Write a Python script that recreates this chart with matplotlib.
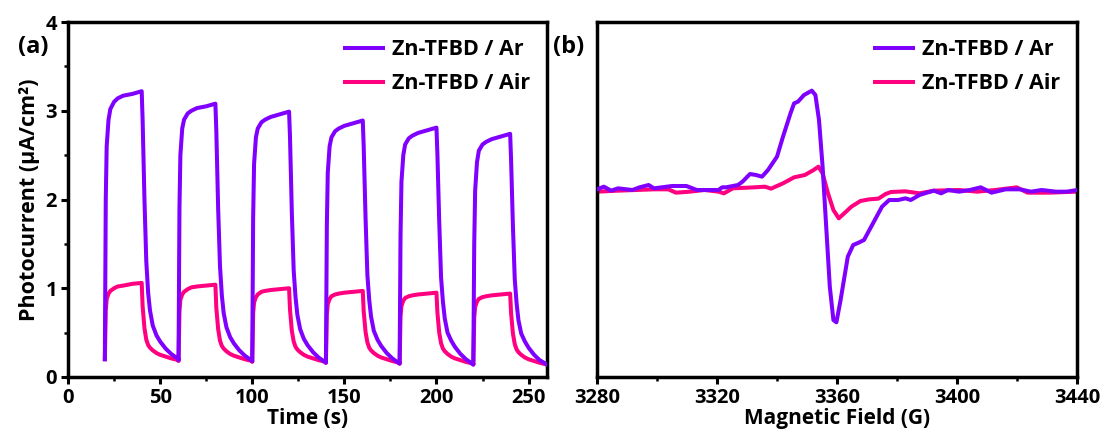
import numpy as np
import matplotlib.pyplot as plt
from matplotlib.ticker import MultipleLocator

plt.rcParams['font.family'] = ['Open Sans', 'DejaVu Sans']
plt.rcParams['font.weight'] = 'bold'

# ---- panel (a): on/off photocurrent, one light cycle every 40 s ----
cycle_starts = [20, 60, 100, 140, 180, 220]
t_offsets = [0, 0.5, 1, 2, 3, 5, 7, 10, 15, 20,
             20.5, 21.5, 22.5, 23.5, 24.5, 26, 28, 30, 33, 36, 40]

ar_cycles = [
    [0.20, 2.0, 2.6, 2.9, 3.02, 3.10, 3.14, 3.17, 3.19, 3.22,
     2.9, 2.0, 1.3, 0.95, 0.75, 0.58, 0.47, 0.40, 0.32, 0.26, 0.20],
    [0.19, 1.9, 2.5, 2.8, 2.90, 2.97, 3.00, 3.03, 3.05, 3.08,
     2.78, 1.9, 1.25, 0.92, 0.72, 0.56, 0.45, 0.38, 0.30, 0.24, 0.18],
    [0.18, 1.8, 2.4, 2.7, 2.80, 2.87, 2.90, 2.93, 2.96, 2.99,
     2.70, 1.85, 1.2, 0.90, 0.70, 0.54, 0.43, 0.36, 0.28, 0.22, 0.16],
    [0.16, 1.7, 2.3, 2.6, 2.70, 2.77, 2.80, 2.83, 2.86, 2.89,
     2.60, 1.8, 1.15, 0.87, 0.68, 0.52, 0.42, 0.35, 0.27, 0.21, 0.15],
    [0.15, 1.6, 2.2, 2.5, 2.62, 2.69, 2.72, 2.75, 2.78, 2.81,
     2.52, 1.75, 1.12, 0.85, 0.66, 0.50, 0.41, 0.34, 0.26, 0.20, 0.14],
    [0.14, 1.5, 2.1, 2.42, 2.55, 2.62, 2.65, 2.68, 2.71, 2.74,
     2.45, 1.7, 1.1, 0.83, 0.64, 0.49, 0.40, 0.33, 0.25, 0.19, 0.14],
]
air_cycles = [
    [0.20, 0.75, 0.88, 0.94, 0.97, 1.00, 1.02, 1.03, 1.05, 1.06,
     0.80, 0.55, 0.42, 0.36, 0.33, 0.30, 0.27, 0.25, 0.23, 0.21, 0.19],
    [0.18, 0.74, 0.87, 0.93, 0.96, 0.99, 1.01, 1.02, 1.03, 1.04,
     0.78, 0.54, 0.41, 0.35, 0.32, 0.29, 0.26, 0.24, 0.22, 0.20, 0.18],
    [0.17, 0.72, 0.84, 0.90, 0.93, 0.96, 0.97, 0.98, 0.99, 1.00,
     0.76, 0.52, 0.40, 0.34, 0.31, 0.28, 0.25, 0.23, 0.21, 0.19, 0.17],
    [0.16, 0.70, 0.82, 0.88, 0.91, 0.93, 0.94, 0.95, 0.96, 0.97,
     0.74, 0.51, 0.39, 0.33, 0.30, 0.27, 0.24, 0.22, 0.20, 0.18, 0.16],
    [0.15, 0.68, 0.80, 0.86, 0.89, 0.91, 0.92, 0.93, 0.94, 0.95,
     0.73, 0.50, 0.38, 0.32, 0.29, 0.26, 0.23, 0.21, 0.19, 0.17, 0.15],
    [0.14, 0.67, 0.79, 0.85, 0.88, 0.90, 0.91, 0.92, 0.93, 0.94,
     0.72, 0.49, 0.37, 0.31, 0.28, 0.25, 0.22, 0.20, 0.18, 0.16, 0.14],
]

# ---- panel (b): EPR spectra (arbitrary units) ----
field_ar = [3280, 3282.3, 3284.7, 3287, 3291.8, 3294.2, 3297.2, 3299, 3305, 3309.8,
            3313.3, 3320.5, 3321.7, 3323, 3327, 3328.5, 3331, 3333, 3335, 3337,
            3340, 3342, 3344.5, 3345.7, 3347, 3349, 3351.6, 3352.8, 3354, 3355.2,
            3356.4, 3357.6, 3358.8, 3359.8, 3361.2, 3363.6, 3365.4, 3367.2, 3369, 3370.8,
            3373.2, 3375, 3377.4, 3380.4, 3382.8, 3384.6, 3387.5, 3390, 3392.3, 3394.7,
            3397, 3400.7, 3404.3, 3407.9, 3411.5, 3416.2, 3421, 3424.6, 3428.2, 3433,
            3436.6, 3440]
epr_ar = [0.02, 0.10, -0.02, 0.05, 0.0, 0.08, 0.15, 0.05, 0.12, 0.12,
          0.0, 0.0, 0.08, 0.08, 0.15, 0.25, 0.48, 0.45, 0.40, 0.60,
          1.00, 1.60, 2.30, 2.60, 2.65, 2.85, 2.98, 2.85, 2.10, 0.70,
          -1.10, -2.90, -3.90, -3.97, -3.30, -2.00, -1.65, -1.58, -1.50, -1.20,
          -0.80, -0.50, -0.30, -0.30, -0.25, -0.30, -0.15, -0.08, -0.02, -0.10,
          0.0, -0.05, 0.0, 0.08, -0.08, 0.02, 0.02, -0.05, 0.0, -0.05,
          -0.05, 0.0]

field_air = [3280, 3287, 3299, 3303.8, 3306.3, 3311, 3315.8, 3320.5, 3322.3, 3325.3,
             3332.5, 3336, 3338, 3342, 3345.7, 3349.3, 3352.2, 3353.8, 3355.2, 3357,
             3358.8, 3360.6, 3362.4, 3364.8, 3367.8, 3370.8, 3373.8, 3376.2, 3378, 3382.8,
             3387.5, 3392.3, 3400.7, 3406.7, 3412.7, 3419.9, 3423.5, 3430.6, 3440]
epr_air = [-0.05, -0.02, 0.02, 0.02, -0.08, -0.05, 0.0, -0.05, -0.10, 0.05,
           0.08, 0.10, 0.04, 0.20, 0.38, 0.45, 0.60, 0.70, 0.50, -0.10,
           -0.60, -0.85, -0.70, -0.50, -0.33, -0.28, -0.26, -0.12, -0.06, -0.04,
           -0.10, -0.02, 0.0, -0.05, 0.0, 0.08, -0.08, -0.08, -0.05]

c_ar = '#8000ff'
c_air = '#ff0080'
labels = ['Zn-TFBD / Ar', 'Zn-TFBD / Air']

t_a = np.concatenate([s + np.array(t_offsets) for s in cycle_starts])
ar_a = np.concatenate(ar_cycles)
air_a = np.concatenate(air_cycles)

W, H = 1107, 441
fig = plt.figure(figsize=(W / 100, H / 100), dpi=100)
ax1 = fig.add_axes([68 / W, (H - 377) / H, 479 / W, 355 / H])
ax2 = fig.add_axes([597 / W, (H - 377) / H, 480 / W, 355 / H])

lw = 2.9
ax1.plot(t_a, ar_a, color=c_ar, lw=lw, label=labels[0], zorder=3)
ax1.plot(t_a, air_a, color=c_air, lw=lw, label=labels[1], zorder=2)
ax1.set_xlim(0, 260)
ax1.set_ylim(0, 4)
ax1.xaxis.set_major_locator(MultipleLocator(50))
ax1.xaxis.set_minor_locator(MultipleLocator(25))
ax1.yaxis.set_major_locator(MultipleLocator(1))
ax1.yaxis.set_minor_locator(MultipleLocator(0.5))
ax1.set_xlabel('Time (s)', fontsize=15, fontweight='bold', labelpad=0)
ax1.set_ylabel('Photocurrent (μA/cm²)', fontsize=15.5, fontweight='bold', labelpad=4)

ax2.plot(field_ar, epr_ar, color=c_ar, lw=lw, label=labels[0], zorder=3)
ax2.plot(field_air, epr_air, color=c_air, lw=lw, label=labels[1], zorder=2)
ax2.set_xlim(3280, 3440)
ax2.set_ylim(-5.61, 5.04)
ax2.xaxis.set_major_locator(MultipleLocator(40))
ax2.xaxis.set_minor_locator(MultipleLocator(20))
ax2.set_yticks([])
ax2.set_xlabel('Magnetic Field (G)', fontsize=15, fontweight='bold', labelpad=0)

for ax in (ax1, ax2):
    for sp in ax.spines.values():
        sp.set_linewidth(2.5)
    ax.tick_params(which='major', direction='out', length=5, width=2.2,
                   labelsize=14.5, pad=3)
    ax.tick_params(which='minor', direction='out', length=3, width=1.8)
    for lab in ax.get_xticklabels() + ax.get_yticklabels():
        lab.set_fontweight('bold')
    ax.legend(loc='upper right', frameon=False, handlelength=1.75,
              handletextpad=0.4, labelspacing=0.6, borderaxespad=0.2,
              borderpad=0.6, prop={'weight': 'bold', 'size': 15.5})

fig.text(18 / W, 1 - 47 / H, '(a)', fontsize=17, fontweight='bold',
         va='center', ha='left')
fig.text(553 / W, 1 - 47 / H, '(b)', fontsize=17, fontweight='bold',
         va='center', ha='left')

fig.savefig('out.png', dpi=100)
